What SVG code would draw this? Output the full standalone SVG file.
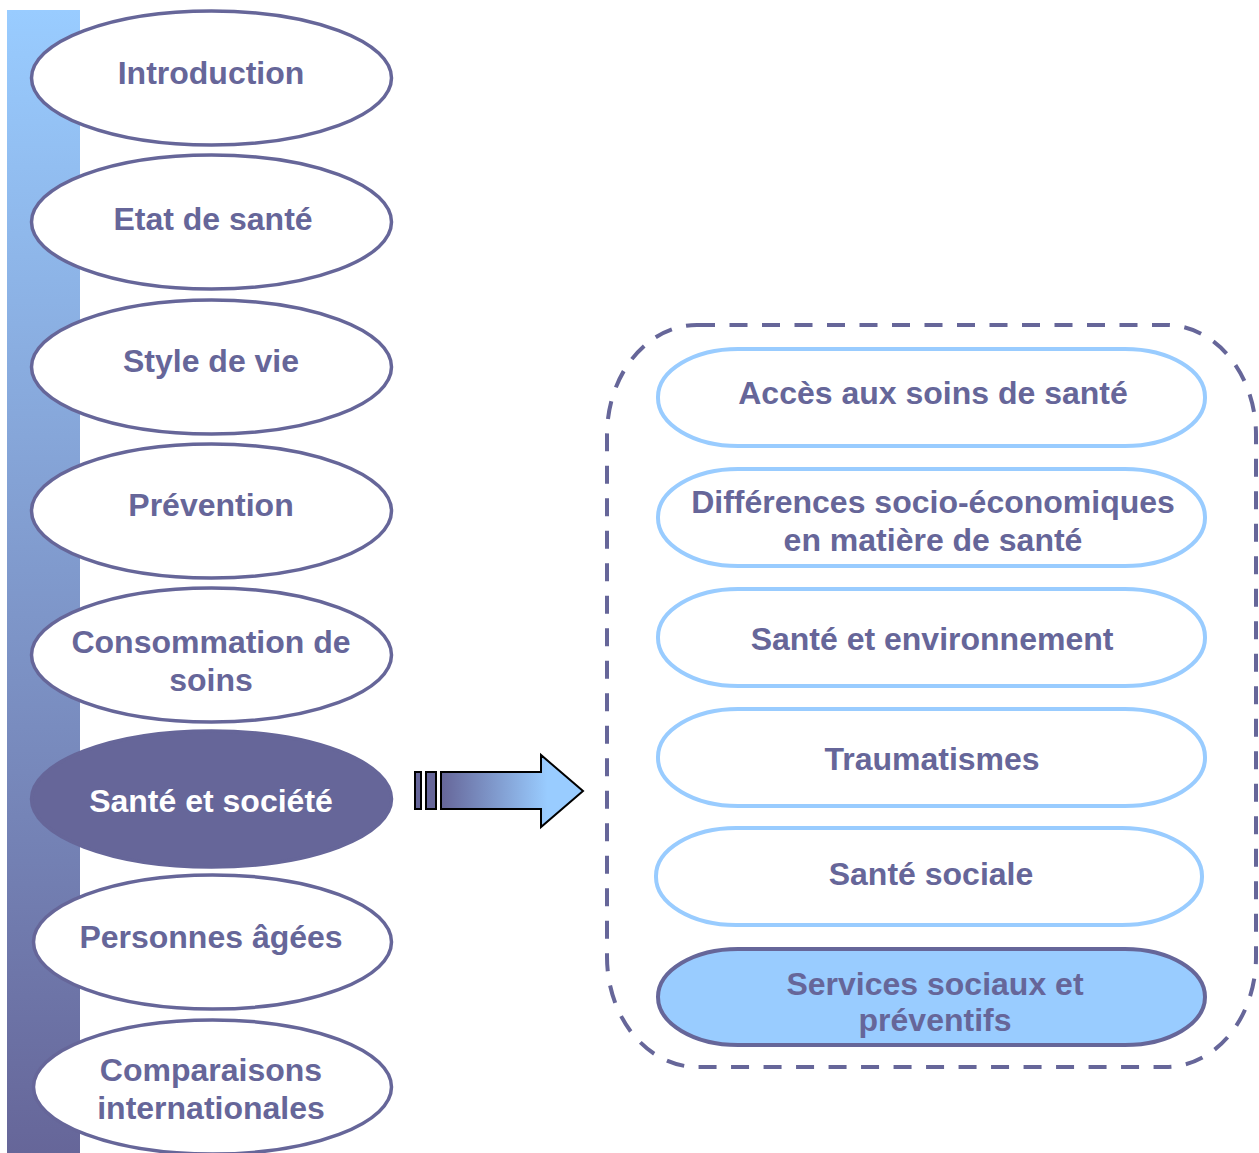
<svg xmlns="http://www.w3.org/2000/svg" width="1259" height="1153" viewBox="0 0 1259 1153">
<defs>
<linearGradient id="barGrad" x1="0" y1="0" x2="0" y2="1">
<stop offset="0" stop-color="#99CCFF"/>
<stop offset="1" stop-color="#666699"/>
</linearGradient>
<linearGradient id="arrowGrad" x1="441" y1="0" x2="583" y2="0" gradientUnits="userSpaceOnUse">
<stop offset="0" stop-color="#666699"/>
<stop offset="0.75" stop-color="#99CCFF"/>
<stop offset="1" stop-color="#99CCFF"/>
</linearGradient>
</defs>
<style>
.ell{fill:#ffffff;stroke:#666699;stroke-width:3.5}
.ellsel{fill:#666699;stroke:#666699;stroke-width:3.5}
.pill{fill:#ffffff;stroke:#99CCFF;stroke-width:4}
.pillsel{fill:#99CCFF;stroke:#666699;stroke-width:4}
.t{font-family:"Liberation Sans",Arial,sans-serif;font-weight:bold;font-size:32px;fill:#666699;text-anchor:middle}
.tw{fill:#ffffff}
</style>
<rect id="sidebar" x="7" y="10" width="73" height="1143" fill="url(#barGrad)"/>

<g id="n-introduction"><ellipse class="ell" cx="211.5" cy="78" rx="180" ry="67"/><text class="t" x="211" y="84">Introduction</text></g>
<g id="n-etat"><ellipse class="ell" cx="211.5" cy="222" rx="180" ry="67"/><text class="t" x="213" y="230">Etat de santé</text></g>
<g id="n-style"><ellipse class="ell" cx="211.5" cy="367" rx="180" ry="67"/><text class="t" x="211" y="372">Style de vie</text></g>
<g id="n-prevention"><ellipse class="ell" cx="211.5" cy="511" rx="180" ry="67"/><text class="t" x="211" y="516">Prévention</text></g>
<g id="n-consommation"><ellipse class="ell" cx="211.5" cy="655" rx="180" ry="67"/><text class="t" x="211" y="653">Consommation de</text><text class="t" x="211" y="691">soins</text></g>
<g id="n-sante-societe"><ellipse class="ellsel" cx="211.5" cy="799" rx="180" ry="68"/><text class="t tw" x="211" y="812">Santé et société</text></g>
<g id="n-personnes"><ellipse class="ell" cx="212.5" cy="942" rx="179" ry="67"/><text class="t" x="211" y="948">Personnes âgées</text></g>
<g id="n-comparaisons"><ellipse class="ell" cx="212.5" cy="1087" rx="179" ry="67"/><text class="t" x="211" y="1081">Comparaisons</text><text class="t" x="211" y="1119">internationales</text></g>

<g id="connectors">
<rect x="415" y="772" width="6" height="37" fill="#666699" stroke="#000" stroke-width="2"/>
<rect x="426" y="772" width="10" height="37" fill="#666699" stroke="#000" stroke-width="2"/>
<path d="M441 772 H541 V755 L583 791 L541 827 V809 H441 Z" fill="url(#arrowGrad)" stroke="#000" stroke-width="2" stroke-linejoin="miter"/>
</g>

<g id="group-box">
<rect x="607" y="325" width="649" height="742" rx="90" ry="110" fill="none" stroke="#666699" stroke-width="4" stroke-dasharray="18 14.5"/>
</g>

<g id="n-acces"><rect class="pill" x="658" y="349" width="547" height="97" rx="80" ry="48"/><text class="t" x="933" y="404">Accès aux soins de santé</text></g>
<g id="n-differences"><rect class="pill" x="658" y="469" width="547" height="97" rx="80" ry="48"/><text class="t" x="933" y="513">Différences socio-économiques</text><text class="t" x="933" y="551">en matière de santé</text></g>
<g id="n-environnement"><rect class="pill" x="658" y="589" width="547" height="97" rx="80" ry="48"/><text class="t" x="932" y="650">Santé et environnement</text></g>
<g id="n-traumatismes"><rect class="pill" x="658" y="709" width="547" height="97" rx="80" ry="48"/><text class="t" x="932" y="770">Traumatismes</text></g>
<g id="n-sante-sociale"><rect class="pill" x="656" y="828" width="546" height="97" rx="80" ry="48"/><text class="t" x="931" y="885">Santé sociale</text></g>
<g id="n-services"><rect class="pillsel" x="658" y="949" width="547" height="96" rx="80" ry="48"/><text class="t" x="935" y="995">Services sociaux et</text><text class="t" x="935" y="1031">préventifs</text></g>
</svg>
